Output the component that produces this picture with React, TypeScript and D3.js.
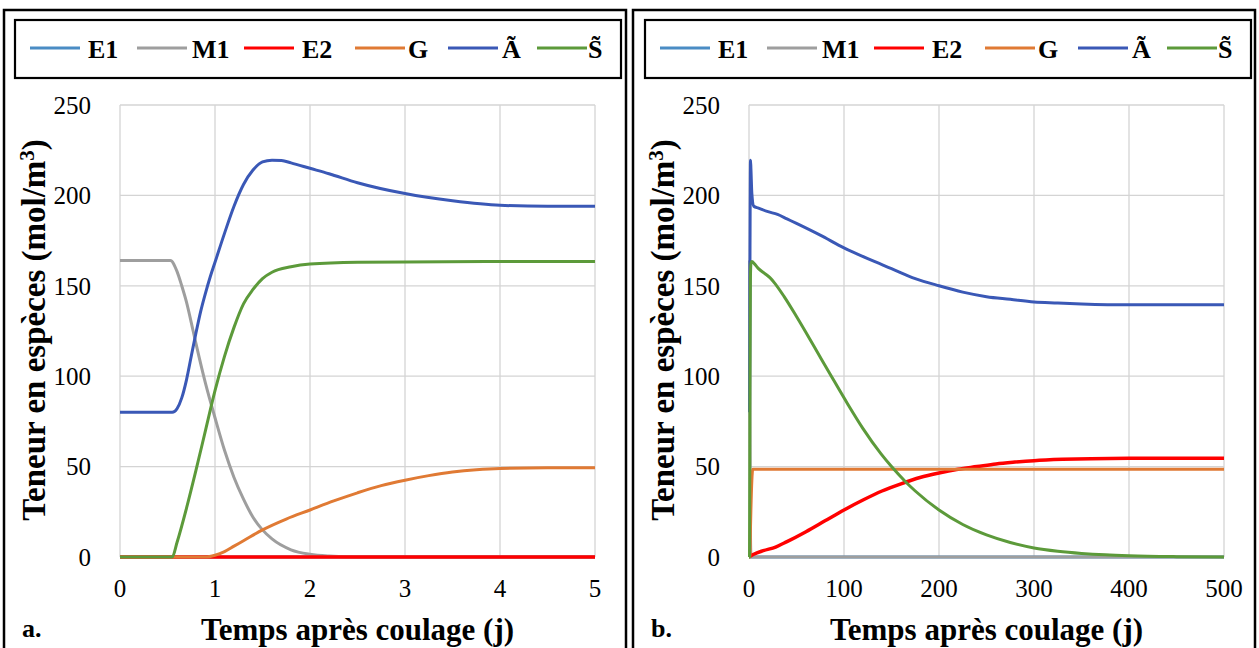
import React from "react";
import * as d3 from "d3";

type Pt = [number, number];

const seriesNames = ["E1", "M1", "E2", "G", "\u00C3", "S\u0303"];
const seriesColors = ["#4A8CC4", "#9E9E9E", "#FF0000", "#E07A34", "#3A58B6", "#5C9A3A"];

const yTicks = [0, 50, 100, 150, 200, 250];
const xTicksA = [0, 1, 2, 3, 4, 5];
const xTicksB = [0, 100, 200, 300, 400, 500];

// Panel a (0 - 5 days)
const aE1: Pt[] = [[0, 0], [5, 0]];
const aM1: Pt[] = [[0, 164], [0.53, 164], [0.6, 158], [0.65, 150], [0.7, 141], [0.77, 125], [0.8, 118], [0.9, 96], [1.0, 77], [1.1, 59], [1.2, 44], [1.3, 32], [1.4, 22], [1.5, 15], [1.6, 10], [1.8, 4], [2.0, 1.5], [2.2, 0.5], [2.5, 0], [5, 0]];
const aE2: Pt[] = [[0, 0], [5, 0]];
const aG: Pt[] = [[0, 0], [0.9, 0], [1.0, 1], [1.1, 3], [1.2, 6], [1.3, 9], [1.5, 15], [1.75, 21], [2.0, 26], [2.25, 31], [2.5, 35.5], [2.75, 39.5], [3.0, 42.5], [3.25, 45], [3.5, 47], [3.75, 48.3], [4.0, 49], [4.5, 49.3], [5, 49.3]];
const aA: Pt[] = [[0, 80], [0.55, 80], [0.6, 82], [0.65, 88], [0.7, 98], [0.75, 111], [0.8, 124], [0.85, 136], [0.9, 146], [0.95, 155], [1.0, 163], [1.1, 179], [1.2, 194], [1.3, 206], [1.4, 214], [1.5, 218.5], [1.6, 219.5], [1.7, 219.3], [1.8, 218], [2.0, 215], [2.2, 212], [2.5, 207], [3.0, 201], [3.5, 197], [4.0, 194.5], [4.5, 194], [5, 194]];
const aS: Pt[] = [[0, 0], [0.55, 0], [0.6, 8], [0.7, 27], [0.8, 48], [0.9, 70], [1.0, 92], [1.1, 111], [1.2, 127], [1.3, 140], [1.4, 148], [1.5, 154], [1.6, 157.5], [1.8, 160.5], [2.0, 162], [2.5, 163], [3.0, 163.2], [4.0, 163.5], [5, 163.5]];

// Panel b (0 - 500 days)
const bE1: Pt[] = [[0, 0], [500, 0]];
const bM1: Pt[] = [[0, 164], [0.55, 164], [1, 77], [1.5, 15], [2, 1.5], [3, 0], [500, 0]];
const bE2: Pt[] = [[0, 0], [5, 1.5], [15, 3.5], [28, 5.5], [40, 8.5], [60, 14], [80, 20], [100, 26], [120, 31.5], [140, 36.5], [160, 40.5], [180, 44], [200, 46.5], [220, 48.5], [240, 50], [260, 51.5], [280, 52.5], [300, 53.3], [330, 54], [360, 54.4], [400, 54.6], [500, 54.6]];
const bG: Pt[] = [[0, 0], [0.9, 0], [1, 1], [1.5, 15], [2, 26], [3, 42.5], [4, 48.5], [500, 48.5]];
const bA: Pt[] = [[0, 80], [0.55, 80], [1, 163], [1.6, 219.5], [2, 215], [3, 201], [5, 194], [10, 193], [20, 191], [30, 189.5], [40, 187], [50, 184.5], [75, 178], [100, 171], [125, 165], [150, 159.5], [175, 154], [200, 150], [225, 146.5], [250, 144], [275, 142.5], [300, 141], [325, 140.5], [350, 140], [400, 139.5], [500, 139.5]];
const bS: Pt[] = [[0, 0], [0.55, 0], [1, 92], [1.5, 154], [2, 162], [3, 163.5], [6, 162], [10, 159.5], [16, 157], [22, 154.5], [27, 151.5], [37, 144], [50, 133], [69, 116], [85, 101.5], [104, 84.5], [120, 71], [139, 57], [150, 50], [165, 41.5], [175, 36.5], [200, 26], [225, 18], [250, 12.2], [275, 8], [300, 5], [325, 3.2], [350, 2], [375, 1.2], [400, 0.7], [450, 0.2], [500, 0]];

const panelA = [aE1, aM1, aE2, aG, aA, aS];
const panelB = [bE1, bM1, bE2, bG, bA, bS];

const FONT = "'Liberation Serif', 'Times New Roman', Times, 'DejaVu Serif', serif";
const fontStyle = { fontFamily: FONT };

function Legend({ ox }: { ox: number }) {
  const lineX = [30, 137, 244, 355, 448, 537];
  const textX = [88, 192, 302, 408, 502, 588];
  return (
    <g transform={`translate(${ox},0)`}>
      <rect x={15} y={20} width={606} height={58} fill="white" stroke="black" strokeWidth={2.2} />
      {seriesNames.map((n, i) => (
        <g key={n}>
          <line x1={lineX[i]} x2={lineX[i] + 50} y1={48} y2={48} stroke={seriesColors[i]} strokeWidth={3} />
          <text x={textX[i]} y={58} style={fontStyle} fontWeight="bold" fontSize={26} fill="black">{n}</text>
        </g>
      ))}
    </g>
  );
}

function Panel({ ox, data, xMax, xTicks, letter }: { ox: number; data: Pt[][]; xMax: number; xTicks: number[]; letter: string }) {
  const left = 120 + ox;
  const right = 595 + ox;
  const x = d3.scaleLinear().domain([0, xMax]).range([left, right]);
  const y = d3.scaleLinear().domain([0, 250]).range([557, 105]);
  const line = d3.line<Pt>().x((d) => x(d[0])).y((d) => y(d[1])).curve(d3.curveMonotoneX);
  const cx = (left + right) / 2;
  return (
    <g>
      <rect x={4 + ox} y={10} width={622} height={660} fill="white" stroke="black" strokeWidth={2.5} />
      {xTicks.map((t) => (
        <line key={"vx" + t} x1={x(t)} x2={x(t)} y1={y(250)} y2={y(0)} stroke="#D4D4D4" strokeWidth={1.3} />
      ))}
      {yTicks.map((t) => (
        <line key={"hy" + t} x1={left} x2={right} y1={y(t)} y2={y(t)} stroke="#D4D4D4" strokeWidth={1.3} />
      ))}
      {data.map((s, i) => (
        <path key={i} d={line(s) || ""} fill="none" stroke={seriesColors[i]} strokeWidth={i === 2 ? 3.5 : 3} strokeLinejoin="round" />
      ))}
      {yTicks.map((t) => (
        <text key={"yl" + t} x={left - 29} y={y(t)} dy="0.35em" textAnchor="end" style={fontStyle} fontSize={25} fill="black">{t}</text>
      ))}
      {xTicks.map((t) => (
        <text key={"xl" + t} x={x(t)} y={597} textAnchor="middle" style={fontStyle} fontSize={25} fill="black">{t}</text>
      ))}
      <text x={cx} y={640} textAnchor="middle" style={fontStyle} fontWeight="bold" fontSize={31} fill="black">Temps après coulage (j)</text>
      <text transform={`translate(${ox + 45},330) rotate(-90)`} textAnchor="middle" style={fontStyle} fontWeight="bold" fontSize={33} fill="black">
        Teneur en espèces (mol/m<tspan dy={-11} fontSize={21}>3</tspan><tspan dy={11}>)</tspan>
      </text>
      <text x={ox + 22} y={637} style={fontStyle} fontWeight="bold" fontSize={26} fill="black">{letter}</text>
    </g>
  );
}

export default function App() {
  return (
    <svg width={1259} height={648} style={{ position: "absolute", left: 0, top: 0, background: "white" }}>
      <rect x={0} y={0} width={1259} height={648} fill="white" />
      <Panel ox={0} data={panelA} xMax={5} xTicks={xTicksA} letter="a." />
      <Panel ox={629} data={panelB} xMax={500} xTicks={xTicksB} letter="b." />
      <Legend ox={0} />
      <Legend ox={630} />
    </svg>
  );
}
